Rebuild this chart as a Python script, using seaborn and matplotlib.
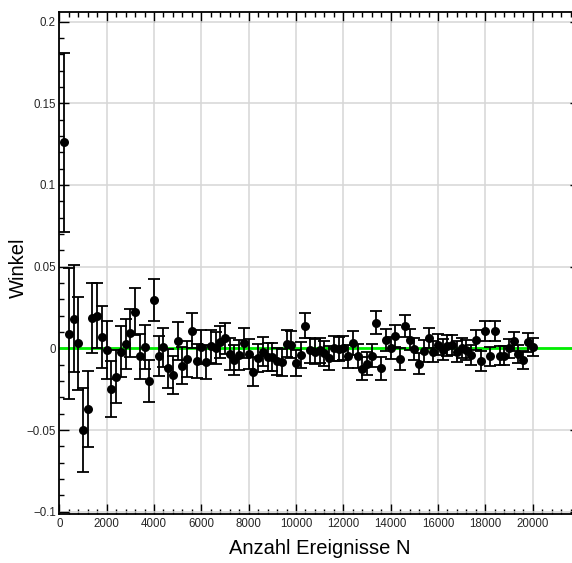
import numpy as np
import pandas as pd
import matplotlib
matplotlib.use("Agg")
import matplotlib.pyplot as plt
from matplotlib.ticker import MultipleLocator, FuncFormatter
import seaborn as sns

# ---- data ----
n_events = list(range(200, 20001, 200))
winkel = [
    0.126, 0.009, 0.018, 0.003, -0.050, -0.037, 0.0186, 0.020, 0.0067, -0.001,
    -0.0247, -0.0173, -0.002, 0.0027, 0.0092, 0.0224, -0.005, 0.001, -0.020, 0.0296,
    -0.0047, 0.0006, -0.0122, -0.0163, 0.0045, -0.0106, -0.0065, 0.0108, -0.0076, 0.001,
    -0.0084, 0.0012, 0.0, 0.0037, 0.006, -0.0035, -0.0073, -0.0043, 0.0033, -0.0035,
    -0.0143, -0.006, -0.002, -0.0055, -0.0055, -0.008, -0.0086, 0.0027, 0.0022, -0.009,
    -0.004, 0.0139, -0.0012, -0.002, -0.0012, -0.003, -0.006, 0.0, -0.0004, 0.0,
    -0.005, 0.0033, -0.0047, -0.0124, -0.0094, -0.0045, 0.0157, -0.0123, 0.0053, 0.0004,
    0.0074, -0.0065, 0.0135, 0.0053, -0.0004, -0.0094, -0.0016, 0.0063, -0.002, 0.0022,
    -0.0008, 0.0016, 0.0022, -0.002, 0.0, -0.0012, -0.004, 0.0053, -0.0078, 0.0106,
    -0.0049, 0.0106, -0.0045, -0.0045, 0.0, 0.0043, -0.0035, -0.0071, 0.0037, 0.0008,
]
fehler = [
    0.0550, 0.0402, 0.0328, 0.0284, 0.0254, 0.0232, 0.0215, 0.0201, 0.0189, 0.0180,
    0.0171, 0.0164, 0.0157, 0.0152, 0.0147, 0.0142, 0.0138, 0.0134, 0.0130, 0.0127,
    0.0124, 0.0121, 0.0118, 0.0116, 0.0114, 0.0111, 0.0109, 0.0107, 0.0105, 0.0104,
    0.0102, 0.0100, 0.0099, 0.0097, 0.0096, 0.0095, 0.0093, 0.0092, 0.0091, 0.0090,
    0.0089, 0.0088, 0.0087, 0.0086, 0.0085, 0.0084, 0.0083, 0.0082, 0.0081, 0.0080,
    0.0080, 0.0079, 0.0078, 0.0077, 0.0077, 0.0076, 0.0075, 0.0075, 0.0074, 0.0073,
    0.0073, 0.0072, 0.0072, 0.0071, 0.0070, 0.0070, 0.0069, 0.0069, 0.0068, 0.0068,
    0.0067, 0.0067, 0.0066, 0.0066, 0.0066, 0.0065, 0.0065, 0.0064, 0.0064, 0.0063,
    0.0063, 0.0063, 0.0062, 0.0062, 0.0062, 0.0061, 0.0061, 0.0061, 0.0060, 0.0060,
    0.0060, 0.0059, 0.0059, 0.0059, 0.0058, 0.0058, 0.0058, 0.0057, 0.0057, 0.0057,
]
x_ticks = [0, 2000, 4000, 6000, 8000, 10000, 12000, 14000, 16000, 18000, 20000]
y_ticks = [-0.1, -0.05, 0, 0.05, 0.1, 0.15, 0.2]

df = pd.DataFrame({"N": n_events, "Winkel": winkel, "err": fehler})

sns.set_theme(style="white")
plt.rcParams["font.family"] = ["Liberation Sans", "DejaVu Sans"]

fig = plt.figure(figsize=(5.72, 5.63), dpi=100)
W, H = 572, 563
left, right, top, bottom = 59.3, 580.0, 11.7, 513.5
ax = fig.add_axes([left / W, 1 - bottom / H, (right - left) / W, (bottom - top) / H])

ax.set_xlim(0, 22000)
ax.set_ylim(-0.1011, 0.206)

# grid
ax.set_xticks(x_ticks)
ax.set_yticks(y_ticks)
ax.grid(True, which="major", color="#d6d6d6", linewidth=1.1)
ax.set_axisbelow(True)

# zero line
ax.axhline(0, color="#00ee00", linewidth=2.0, zorder=1.5)

# error bars + points
ax.errorbar(df["N"], df["Winkel"], yerr=df["err"], fmt="none", ecolor="black",
            elinewidth=1.3, capsize=4.3, capthick=1.3, zorder=2)
sns.scatterplot(data=df, x="N", y="Winkel", ax=ax, color="black", s=42,
                linewidth=0, zorder=3)

# ticks ROOT-style
ax.xaxis.set_minor_locator(MultipleLocator(400))
ax.yaxis.set_minor_locator(MultipleLocator(0.01))
ax.tick_params(which="major", direction="in", length=7.2, width=1.0, color="black",
               top=True, right=True, bottom=True, left=True, labelsize=8.3, pad=3)
ax.tick_params(which="minor", direction="in", length=3.6, width=1.0, color="black",
               top=True, right=True, bottom=True, left=True)
ax.tick_params(axis="y", which="major", pad=2.5)

def fmt(v, pos):
    s = "%g" % v
    return s.replace("-", "\u2212")

ax.xaxis.set_major_formatter(FuncFormatter(fmt))
ax.yaxis.set_major_formatter(FuncFormatter(fmt))

for sp in ax.spines.values():
    sp.set_color("black")
    sp.set_linewidth(1.3)

ax.set_xlabel("")
ax.set_ylabel("")
fig.text(320 / W, 1 - 549 / H, "Anzahl Ereignisse N", ha="center", va="center",
         fontsize=14.5, color="black")
fig.text(18 / W, 1 - 268 / H, "Winkel", ha="center", va="center", rotation=90,
         fontsize=14.5, color="black")

fig.savefig("out.png", dpi=100)
